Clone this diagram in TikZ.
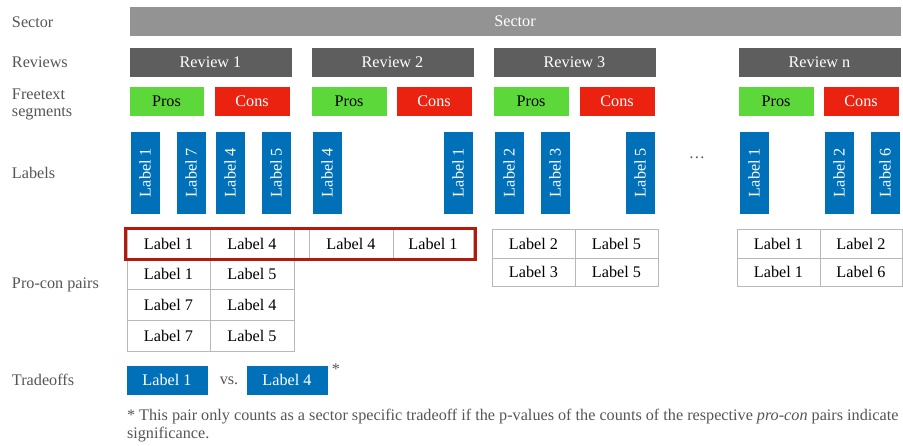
\documentclass[tikz,border=0pt]{standalone}
\usepackage{fontspec}
\setmainfont{Liberation Serif}
\definecolor{sectorgray}{HTML}{939393}
\definecolor{reviewgray}{HTML}{5E5E5E}
\definecolor{prosgreen}{HTML}{5DD83A}
\definecolor{consred}{HTML}{EC2210}
\definecolor{labblue}{HTML}{0071B8}
\definecolor{gridgray}{HTML}{B8B8B8}
\definecolor{framered}{HTML}{B41A0C}
\definecolor{sidegray}{HTML}{555555}
\newcommand\mybox[7]{% name, x1, y1, x2, y2, style, text
  \node[#6, minimum width={#4pt-#2pt}, minimum height={#5pt-#3pt}] (#1) at ({(#2+#4)/2},{(#3+#5)/2}) {#7};}
\newcommand\vlab[3]{% name, x-left, text
  \node[labbox, rotate=90, minimum width=83pt, minimum height=30pt] (#1) at ({#2+15},172.5) {#3};}
\begin{document}
\begin{tikzpicture}[x=1pt,y=-1pt,
  every node/.style={inner sep=0pt, outer sep=0pt, font=\fontsize{16.2}{18}\selectfont},
  bx/.style={rectangle, draw=white, line width=0.5pt},
  sectorbox/.style={bx, fill=sectorgray, text=white},
  reviewbox/.style={bx, fill=reviewgray, text=white},
  prosbox/.style={bx, fill=prosgreen, text=black},
  consbox/.style={bx, fill=consred, text=white},
  labbox/.style={bx, fill=labblue, text=white},
  cell/.style={rectangle, draw=gridgray, line width=0.8pt, text=black},
  side/.style={anchor=west, text=sidegray, align=left}]
\useasboundingbox (0,0) rectangle (903,445);
% side labels
\node[side] (tSector) at (12,22) {Sector};
\node[side] (tReviews) at (12,62) {Reviews};
\node[side, font=\fontsize{16.2}{17}\selectfont] (tFree) at (12,104) {Freetext\\segments};
\node[side] (tLabels) at (12,173) {Labels};
\node[side] (tPairs) at (12,285) {Pro-con pairs};
\node[side] (tTrade) at (12,380) {Tradeoffs};
% sector
\mybox{sector}{129}{6}{901}{36}{sectorbox}{Sector}
% reviews
\mybox{rev1}{129}{47}{292}{77}{reviewbox}{Review 1}
\mybox{rev2}{311}{47}{474}{77}{reviewbox}{Review 2}
\mybox{rev3}{493}{47}{656}{77}{reviewbox}{Review 3}
\mybox{revn}{738}{47}{901}{77}{reviewbox}{Review n}
% pros / cons
\mybox{pros1}{129}{86}{204}{116}{prosbox}{Pros}
\mybox{cons1}{214}{86}{290}{116}{consbox}{Cons}
\mybox{pros2}{311}{86}{387}{116}{prosbox}{Pros}
\mybox{cons2}{396}{86}{472}{116}{consbox}{Cons}
\mybox{pros3}{493}{86}{569}{116}{prosbox}{Pros}
\mybox{cons3}{579}{86}{655}{116}{consbox}{Cons}
\mybox{prosn}{738}{86}{814}{116}{prosbox}{Pros}
\mybox{consn}{823}{86}{899}{116}{consbox}{Cons}
% vertical labels
\vlab{l1a}{130}{Label 1}
\vlab{l1b}{176}{Label 7}
\vlab{l1c}{215}{Label 4}
\vlab{l1d}{261}{Label 5}
\vlab{l2a}{312}{Label 4}
\vlab{l2b}{443}{Label 1}
\vlab{l3a}{494}{Label 2}
\vlab{l3b}{540}{Label 3}
\vlab{l3c}{625}{Label 5}
\vlab{lna}{739}{Label 1}
\vlab{lnb}{824}{Label 2}
\vlab{lnc}{870}{Label 6}
\node[text=sidegray] (dots) at (697,158) {\dots};
% table review 1
\mybox{t1a}{127}{229}{210}{258}{cell}{Label 1}
\mybox{t1b}{210}{229}{294}{258}{cell}{Label 4}
\mybox{t1c}{127}{258}{210}{289}{cell}{Label 1}
\mybox{t1d}{210}{258}{294}{289}{cell}{Label 5}
\mybox{t1e}{127}{289}{210}{320}{cell}{Label 7}
\mybox{t1f}{210}{289}{294}{320}{cell}{Label 4}
\mybox{t1g}{127}{320}{210}{351}{cell}{Label 7}
\mybox{t1h}{210}{320}{294}{351}{cell}{Label 5}
% table review 2
\mybox{t2a}{309}{229}{393}{258}{cell}{Label 4}
\mybox{t2b}{393}{229}{473}{258}{cell}{Label 1}
% table review 3
\mybox{t3a}{492}{229}{575}{258}{cell}{Label 2}
\mybox{t3b}{575}{229}{658}{258}{cell}{Label 5}
\mybox{t3c}{492}{258}{575}{286}{cell}{Label 3}
\mybox{t3d}{575}{258}{658}{286}{cell}{Label 5}
% table review n
\mybox{tna}{737}{229}{820}{258}{cell}{Label 1}
\mybox{tnb}{820}{229}{902}{258}{cell}{Label 2}
\mybox{tnc}{737}{258}{820}{286}{cell}{Label 1}
\mybox{tnd}{820}{258}{902}{286}{cell}{Label 6}
% highlight frame
\node[rectangle, draw=framered, line width=3pt, minimum width=350pt, minimum height=31pt] (frame) at (300.5,244) {};
% tradeoffs
\mybox{trA}{126}{365}{208}{395}{labbox}{Label 1}
\node[text=sidegray] (vs) at (229,381) {vs.};
\mybox{trB}{246}{365}{328}{395}{labbox}{Label 4}
\node[text=sidegray] (star) at (336,369) {*};
\node[anchor=north west, text=sidegray, align=left, font=\fontsize{16.2}{18}\selectfont] (note) at (127,409)
  {* This pair only counts as a sector specific tradeoff if the p-values of the counts of the respective \textit{pro-con} pairs indicate\\significance.};
\end{tikzpicture}
\end{document}
